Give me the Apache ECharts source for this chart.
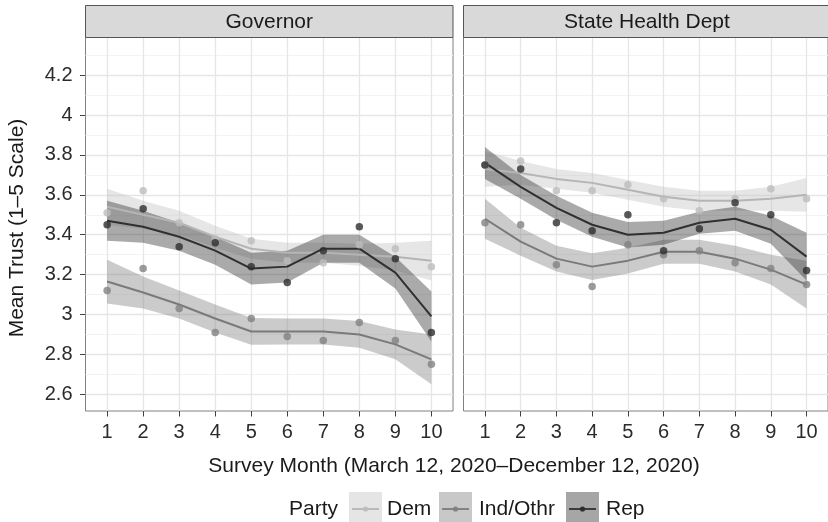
<!DOCTYPE html>
<html>
<head>
<meta charset="utf-8">
<script src="https://cdn.jsdelivr.net/npm/echarts@6/dist/echarts.min.js"></script>
<style>
html,body{margin:0;padding:0;background:#fff;}
#chart{width:828px;height:522px;}
</style>
</head>
<body>
<div id="chart"></div>
<script>
// ---- data ----
const months = [1, 2, 3, 4, 5, 6, 7, 8, 9, 10];
const yTicks = [2.6, 2.8, 3, 3.2, 3.4, 3.6, 3.8, 4, 4.2];
const yMinor = [2.7, 2.9, 3.1, 3.3, 3.5, 3.7, 3.9, 4.1, 4.3];
const panels = ["Governor", "State Health Dept"];
const parties = ["Dem", "Ind/Othr", "Rep"];

// Governor
const govDemPts = [3.51, 3.62, 3.46, 3.38, 3.37, 3.27, 3.26, 3.35, 3.33, 3.24];
const govDemFit = [3.54, 3.50, 3.46, 3.39, 3.33, 3.31, 3.31, 3.30, 3.29, 3.27];
const govDemSe  = [0.09, 0.07, 0.06, 0.055, 0.05, 0.05, 0.05, 0.055, 0.07, 0.10];
const govIndPts = [3.12, 3.23, 3.03, 2.91, 2.98, 2.89, 2.87, 2.96, 2.87, 2.75];
const govIndFit = [3.165, 3.11, 3.05, 2.98, 2.915, 2.915, 2.915, 2.90, 2.85, 2.775];
const govIndSe  = [0.11, 0.08, 0.07, 0.07, 0.067, 0.065, 0.065, 0.067, 0.075, 0.125];
const govRepPts = [3.45, 3.53, 3.34, 3.36, 3.24, 3.16, 3.32, 3.44, 3.28, 2.91];
const govRepFit = [3.47, 3.44, 3.39, 3.32, 3.23, 3.24, 3.33, 3.33, 3.21, 2.99];
const govRepSe  = [0.10, 0.08, 0.07, 0.07, 0.08, 0.08, 0.07, 0.07, 0.08, 0.125];

// State Health Dept
const shdDemPts = [3.75, 3.77, 3.62, 3.62, 3.65, 3.58, 3.52, 3.58, 3.63, 3.58];
const shdDemFit = [3.73, 3.71, 3.68, 3.66, 3.625, 3.59, 3.57, 3.57, 3.58, 3.60];
const shdDemSe  = [0.09, 0.06, 0.05, 0.05, 0.05, 0.05, 0.05, 0.05, 0.06, 0.085];
const shdIndPts = [3.46, 3.45, 3.25, 3.14, 3.35, 3.30, 3.32, 3.26, 3.23, 3.15];
const shdIndFit = [3.48, 3.365, 3.28, 3.24, 3.27, 3.315, 3.315, 3.28, 3.225, 3.15];
const shdIndSe  = [0.10, 0.07, 0.065, 0.067, 0.065, 0.06, 0.06, 0.065, 0.075, 0.12];
const shdRepPts = [3.75, 3.73, 3.46, 3.42, 3.50, 3.32, 3.43, 3.56, 3.50, 3.22];
const shdRepFit = [3.76, 3.64, 3.535, 3.45, 3.40, 3.41, 3.46, 3.48, 3.425, 3.29];
const shdRepSe  = [0.08, 0.06, 0.06, 0.06, 0.064, 0.06, 0.055, 0.06, 0.07, 0.12];

// ---- styles ----
const FONT = '"Liberation Sans", Arial, Helvetica, sans-serif';
const styles = {
  "Dem":      {pt: '#bdbdbd', line: '#b5b5b5', band: '#c0c0c0'},
  "Ind/Othr": {pt: '#828282', line: '#7a7a7a', band: '#7d7d7d'},
  "Rep":      {pt: '#2e2e2e', line: '#303030', band: '#2a2a2a'}
};
const panelData = [
  {"Dem": [govDemPts, govDemFit, govDemSe], "Ind/Othr": [govIndPts, govIndFit, govIndSe], "Rep": [govRepPts, govRepFit, govRepSe]},
  {"Dem": [shdDemPts, shdDemFit, shdDemSe], "Ind/Othr": [shdIndPts, shdIndFit, shdIndSe], "Rep": [shdRepPts, shdRepFit, shdRepSe]}
];

const G = {top: 37.5, height: 373.5, width: 367.5, lefts: [85.5, 463.5]};
const Y_MIN = 2.516, Y_MAX = 4.389;

const grids = G.lefts.map(l => ({
  left: l, top: G.top, width: G.width, height: G.height,
  show: true, borderColor: '#808080', borderWidth: 1, backgroundColor: '#fff'
}));

const xAxes = [0, 1].map(i => ({
  type: 'value', gridIndex: i, min: 0.4, max: 10.6,
  axisLine: {show: false},
  axisTick: {show: true, customValues: months, length: 5.5, lineStyle: {color: '#444', width: 1}},
  axisLabel: {show: true, customValues: months, fontSize: 20, color: '#2b2b2b', margin: 11, fontFamily: FONT},
  splitLine: {show: true, lineStyle: {color: '#e6e6e6', width: 1.3}}
}));

const yAxes = [];
[0, 1].forEach(i => {
  yAxes.push({
    type: 'value', gridIndex: i, min: Y_MIN, max: Y_MAX,
    axisLine: {show: false},
    axisTick: {show: i === 0, customValues: yTicks, length: 5.5, lineStyle: {color: '#444', width: 1}},
    axisLabel: {show: i === 0, customValues: yTicks, fontSize: 20, color: '#2b2b2b', margin: 13, fontFamily: FONT},
    splitLine: {show: true, lineStyle: {color: '#e6e6e6', width: 1.3}}
  });
});
[0, 1].forEach(i => {
  yAxes.push({
    type: 'value', gridIndex: i, min: Y_MIN, max: Y_MAX,
    axisLine: {show: false},
    axisTick: {show: false, customValues: yMinor},
    axisLabel: {show: false, customValues: yMinor},
    splitLine: {show: true, lineStyle: {color: '#f3f3f3', width: 1}}
  });
});

const series = [];
panelData.forEach((pd, pi) => {
  // confidence ribbons
  parties.forEach(p => {
    const [pts, fit, se] = pd[p];
    const st = styles[p];
    const bandData = months.map((m, k) => [m, fit[k] - se[k], fit[k] + se[k]]);
    series.push({
      type: 'custom', xAxisIndex: pi, yAxisIndex: pi, z: 1, silent: true,
      dimensions: ['x', 'lo', 'hi'],
      encode: {x: 0, y: [1, 2]},
      data: bandData,
      renderItem: function (params, api) {
        if (params.dataIndex !== 0) return null;
        const upper = bandData.map(d => api.coord([d[0], d[2]]));
        const lower = bandData.map(d => api.coord([d[0], d[1]])).reverse();
        return {
          type: 'polygon',
          shape: {points: upper.concat(lower)},
          style: {fill: st.band, opacity: 0.4}
        };
      }
    });
  });
  // fitted lines
  parties.forEach(p => {
    const [pts, fit] = pd[p];
    const st = styles[p];
    series.push({
      name: p, type: 'line', xAxisIndex: pi, yAxisIndex: pi, z: 2,
      symbol: 'none', lineStyle: {color: st.line, width: 2},
      data: months.map((m, k) => [m, fit[k]])
    });
  });
  // observed means
  parties.forEach(p => {
    const [pts] = pd[p];
    const st = styles[p];
    series.push({
      name: p, type: 'scatter', xAxisIndex: pi, yAxisIndex: pi, z: 3,
      symbol: 'circle', symbolSize: 7.5, itemStyle: {color: st.pt},
      data: months.map((m, k) => [m, pts[k]])
    });
  });
});

// strips, titles and legend
const graphics = [];
panels.forEach((name, i) => {
  graphics.push({
    type: 'rect', z: 10,
    shape: {x: G.lefts[i], y: 5.5, width: G.width, height: 32},
    style: {fill: '#d9d9d9', stroke: '#555', lineWidth: 1}
  });
  graphics.push({
    type: 'text', z: 11, x: G.lefts[i] + (i === 0 ? G.width / 2 : 183.5), y: 22.5,
    style: {text: name, font: '21px ' + FONT, fill: '#1a1a1a', align: 'center', verticalAlign: 'middle'}
  });
});
graphics.push({
  type: 'text', z: 11, x: 17, y: 228, rotation: Math.PI / 2,
  style: {text: 'Mean Trust (1–5 Scale)', font: '21px ' + FONT, fill: '#1a1a1a', align: 'center', verticalAlign: 'middle'}
});
graphics.push({
  type: 'text', z: 11, x: 454, y: 466,
  style: {text: 'Survey Month (March 12, 2020–December 12, 2020)', font: '21px ' + FONT, fill: '#1a1a1a', align: 'center', verticalAlign: 'middle'}
});
graphics.push({
  type: 'text', z: 11, x: 289, y: 509,
  style: {text: 'Party', font: '21px ' + FONT, fill: '#1a1a1a', align: 'left', verticalAlign: 'middle'}
});
const legendBoxX = [349, 439, 566];
const legendTextX = [387, 479, 606];
parties.forEach((p, i) => {
  const st = styles[p];
  const bx = legendBoxX[i];
  graphics.push({type: 'rect', z: 10, shape: {x: bx, y: 492, width: 33, height: 33}, style: {fill: st.band, opacity: 0.42}});
  graphics.push({type: 'line', z: 11, shape: {x1: bx + 3, y1: 509, x2: bx + 30, y2: 509}, style: {stroke: st.line, lineWidth: 1.8}});
  graphics.push({type: 'circle', z: 12, shape: {cx: bx + 16.5, cy: 509, r: 2.6}, style: {fill: st.pt}});
  graphics.push({
    type: 'text', z: 11, x: legendTextX[i], y: 509,
    style: {text: p, font: '21px ' + FONT, fill: '#1a1a1a', align: 'left', verticalAlign: 'middle'}
  });
});

const chart = echarts.init(document.getElementById('chart'), null, {renderer: 'canvas'});
chart.setOption({
  animation: false,
  backgroundColor: '#ffffff',
  textStyle: {fontFamily: FONT},
  grid: grids,
  xAxis: xAxes,
  yAxis: yAxes,
  series: series,
  graphic: graphics
});
</script>
</body>
</html>
